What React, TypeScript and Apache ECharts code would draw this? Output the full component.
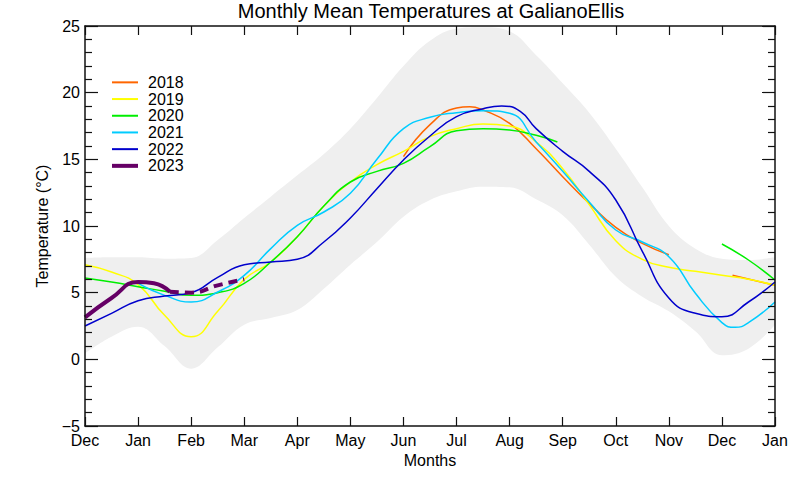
import React, { useEffect, useRef } from 'react';
import * as echarts from 'echarts';

const MONTH_LABELS = ['Dec', 'Jan', 'Feb', 'Mar', 'Apr', 'May', 'Jun', 'Jul', 'Aug', 'Sep', 'Oct', 'Nov', 'Dec', 'Jan'];

// Envelope (grey band) sampled at half-month positions
const bandX = [0, 0.5, 1, 1.5, 2, 2.5, 3, 3.5, 4, 4.5, 5, 5.5, 6, 6.5, 7, 7.5, 8, 8.5, 9, 9.5, 10, 10.5, 11, 11.5, 12, 12.5, 13];
const bandHigh = [7.6, 7.65, 7.65, 7.55, 7.6, 8.95, 10.6, 12.2, 13.8, 15.4, 17.3, 19.6, 22.0, 23.9, 24.8, 24.9, 24.6, 22.8, 20.7, 18.5, 15.8, 12.9, 10.0, 8.3, 7.55, 7.45, 7.65];
const bandLow = [0.45, 1.7, 2.45, 1.0, -0.7, 0.9, 2.6, 3.1, 3.7, 5.3, 7.1, 8.8, 10.7, 11.95, 12.6, 12.95, 12.9, 12.0, 10.8, 8.6, 6.2, 4.7, 3.6, 2.1, 0.3, 0.8, 2.6];

// Yearly curves: [month position, °C]
const t2018a = [[6, 15.2], [6.5, 17.6], [7, 18.85], [7.25, 18.95], [7.5, 18.7], [8, 17.7], [8.5, 15.8], [9, 13.7], [9.5, 11.7], [10, 9.9], [10.5, 8.7], [11, 7.85]];
const t2018b = [[12.2, 6.3], [13, 5.55]];
const t2019 = [[0, 7.1], [0.5, 6.55], [1, 5.6], [1.5, 3.3], [2, 1.7], [2.5, 3.6], [3, 6.0], [3.5, 7.3], [4, 9.2], [4.5, 11.5], [5, 13.3], [5.5, 14.6], [6, 15.6], [6.5, 16.7], [7, 17.3], [7.5, 17.65], [8, 17.5], [8.5, 16.3], [9, 14.3], [9.5, 11.6], [10, 8.9], [10.5, 7.5], [11, 6.9], [11.5, 6.6], [12, 6.3], [12.5, 6.0], [13, 5.55]];
const t2020a = [[0, 6.1], [0.5, 5.8], [1, 5.45], [1.5, 5.1], [2, 4.8], [2.5, 5.0], [3, 5.7], [3.5, 7.3], [4, 9.2], [4.5, 11.5], [5, 13.3], [5.5, 14.1], [6, 14.7], [6.5, 15.95], [7, 17.15], [7.5, 17.3], [8, 17.2], [8.5, 16.8], [8.9, 16.3]];
const t2020b = [[12, 8.65], [12.5, 7.45], [13, 5.95]];
const t2021 = [[1, 5.7], [1.5, 4.8], [2, 4.3], [2.5, 5.05], [3, 6.3], [3.5, 8.3], [4, 10.05], [4.5, 11.05], [5, 12.45], [5.5, 15.0], [6, 17.3], [6.5, 18.15], [7, 18.5], [7.5, 18.65], [8, 18.45], [8.5, 16.3], [9, 14.1], [9.5, 11.8], [10, 9.7], [10.5, 8.8], [11, 7.7], [11.5, 4.95], [12, 2.75], [12.25, 2.4], [12.5, 2.75], [13, 4.3]];
const t2022 = [[0, 2.5], [0.5, 3.45], [1, 4.4], [1.5, 4.75], [2, 5.0], [2.5, 6.15], [3, 7.1], [3.5, 7.3], [4, 7.5], [4.5, 8.8], [5, 10.6], [5.5, 12.8], [6, 14.95], [6.5, 16.75], [7, 18.2], [7.5, 18.8], [7.85, 19.0], [8.2, 18.6], [8.5, 17.3], [9, 15.6], [9.5, 14.1], [10, 11.95], [10.5, 8.1], [11, 4.6], [11.5, 3.45], [12, 3.2], [12.5, 4.3], [13, 5.8]];
const t2023 = [[0, 3.15], [0.5, 4.6], [1, 5.8], [1.3, 5.7], [1.6, 5.07]];
const t2023proj = [[1.6, 5.07], [2, 5.0], [2.5, 5.55], [3, 6.0]];

const YEARS = ['2018', '2019', '2020', '2021', '2022', '2023'];
const COLORS = ['#ff6600', '#ffff00', '#00ee00', '#00ccff', '#0000cc', '#660066'];

export default function App() {
  const ref = useRef<HTMLDivElement>(null);

  useEffect(() => {
    const chart = echarts.init(ref.current!, null, { renderer: 'svg' });
    const font = "'Liberation Sans', Arial, Helvetica, sans-serif";
    const axisColor = '#111';

    const line = (name: string, data: number[][], color: string, width = 1.5, type: any = 'solid') => ({
      type: 'line',
      name,
      data,
      smooth: 0.5,
      symbol: 'none',
      showSymbol: false,
      lineStyle: { color, width, type },
      itemStyle: { color },
      z: 3,
    });

    const upperPts = bandX.map((x, i) => [x, bandHigh[i]]);
    const lowerPts = bandX.map((x, i) => [x, bandLow[i]]);

    const axisBase = {
      z: 10,
      axisLine: { show: true, onZero: false, lineStyle: { color: axisColor, width: 1.5 } },
      splitLine: { show: false },
    };
    const tickStyle = { color: axisColor, width: 1.2 };

    const legendText = { fontSize: 16, color: '#000', fontFamily: font, lineHeight: 16.7, padding: [0, 0, 0, 5] };

    chart.setOption({
      animation: false,
      backgroundColor: '#fff',
      textStyle: { fontFamily: font },
      title: {
        text: 'Monthly Mean Temperatures at GalianoEllis',
        left: 426,
        top: -4,
        textAlign: 'center',
        textStyle: { fontSize: 20, fontWeight: 'normal', color: '#000', fontFamily: font },
      },
      legend: [
        {
          data: YEARS.slice(0, 5).map((name, i) => ({ name, icon: 'rect', itemStyle: { color: COLORS[i] } })),
          orient: 'vertical',
          left: 107,
          top: 69,
          itemWidth: 26,
          itemHeight: 2,
          itemGap: 0,
          selectedMode: false,
          textStyle: legendText,
        },
        {
          data: [{ name: YEARS[5], icon: 'rect', itemStyle: { color: COLORS[5] } }],
          orient: 'vertical',
          left: 107,
          top: 69 + 5 * 16.7,
          itemWidth: 26,
          itemHeight: 4,
          itemGap: 0,
          selectedMode: false,
          textStyle: legendText,
        },
      ],
      grid: { left: 85, right: 25, top: 26, bottom: 54, containLabel: false },
      xAxis: [
        {
          type: 'value',
          min: 0,
          max: 13,
          interval: 1,
          position: 'bottom',
          ...axisBase,
          axisTick: { show: true, inside: true, length: 9, lineStyle: tickStyle },
          axisLabel: {
            fontSize: 16,
            color: '#000',
            margin: 6,
            fontFamily: font,
            formatter: (v: number) => MONTH_LABELS[Math.round(v)] ?? '',
          },
          name: 'Months',
          nameLocation: 'middle',
          nameGap: 25,
          nameTextStyle: { fontSize: 16, color: '#000', fontFamily: font },
        },
        {
          type: 'value',
          min: 0,
          max: 13,
          interval: 1,
          position: 'top',
          ...axisBase,
          axisTick: { show: true, inside: true, length: 9, lineStyle: tickStyle },
          axisLabel: { show: false },
        },
      ],
      yAxis: [
        {
          type: 'value',
          min: -5,
          max: 25,
          interval: 5,
          position: 'left',
          ...axisBase,
          axisTick: { show: true, inside: true, length: 13, lineStyle: tickStyle },
          minorTick: { show: true, splitNumber: 5, length: 7, lineStyle: tickStyle },
          minorSplitLine: { show: false },
          axisLabel: {
            fontSize: 16,
            color: '#000',
            margin: 5,
            fontFamily: font,
            formatter: (v: number) => (v < 0 ? '\u2212' + Math.abs(v) : String(v)),
          },
          name: 'Temperature (\u00B0C)',
          nameLocation: 'middle',
          nameGap: 32,
          nameRotate: 90,
          nameTextStyle: { fontSize: 16, color: '#000', fontFamily: font },
        },
        {
          type: 'value',
          min: -5,
          max: 25,
          interval: 5,
          position: 'right',
          ...axisBase,
          axisTick: { show: true, inside: true, length: 13, lineStyle: tickStyle },
          minorTick: { show: true, splitNumber: 5, length: 7, lineStyle: tickStyle },
          minorSplitLine: { show: false },
          axisLabel: { show: false },
        },
      ],
      series: [
        {
          type: 'line',
          name: 'envelope high',
          data: upperPts,
          smooth: 0.4,
          symbol: 'none',
          lineStyle: { width: 0, opacity: 0 },
          areaStyle: { color: '#efefef', opacity: 1, origin: 'start' },
          z: 1,
          silent: true,
        },
        {
          type: 'line',
          name: 'envelope low',
          data: lowerPts,
          smooth: 0.4,
          symbol: 'none',
          lineStyle: { width: 0, opacity: 0 },
          areaStyle: { color: '#ffffff', opacity: 1, origin: 'start' },
          z: 1,
          silent: true,
        },
        line('2018', t2018a, COLORS[0]),
        line('2018', t2018b, COLORS[0]),
        line('2019', t2019, COLORS[1]),
        line('2020', t2020a, COLORS[2]),
        line('2020', t2020b, COLORS[2]),
        line('2021', t2021, COLORS[3]),
        line('2022', t2022, COLORS[4]),
        line('2023', t2023, COLORS[5], 4),
        line('2023 projection', t2023proj, COLORS[5], 4, [9, 6]),
      ],
    });

    return () => chart.dispose();
  }, []);

  return (
    <div
      ref={ref}
      style={{ position: 'fixed', left: 0, top: 0, width: 800, height: 480, background: '#fff' }}
    />
  );
}
